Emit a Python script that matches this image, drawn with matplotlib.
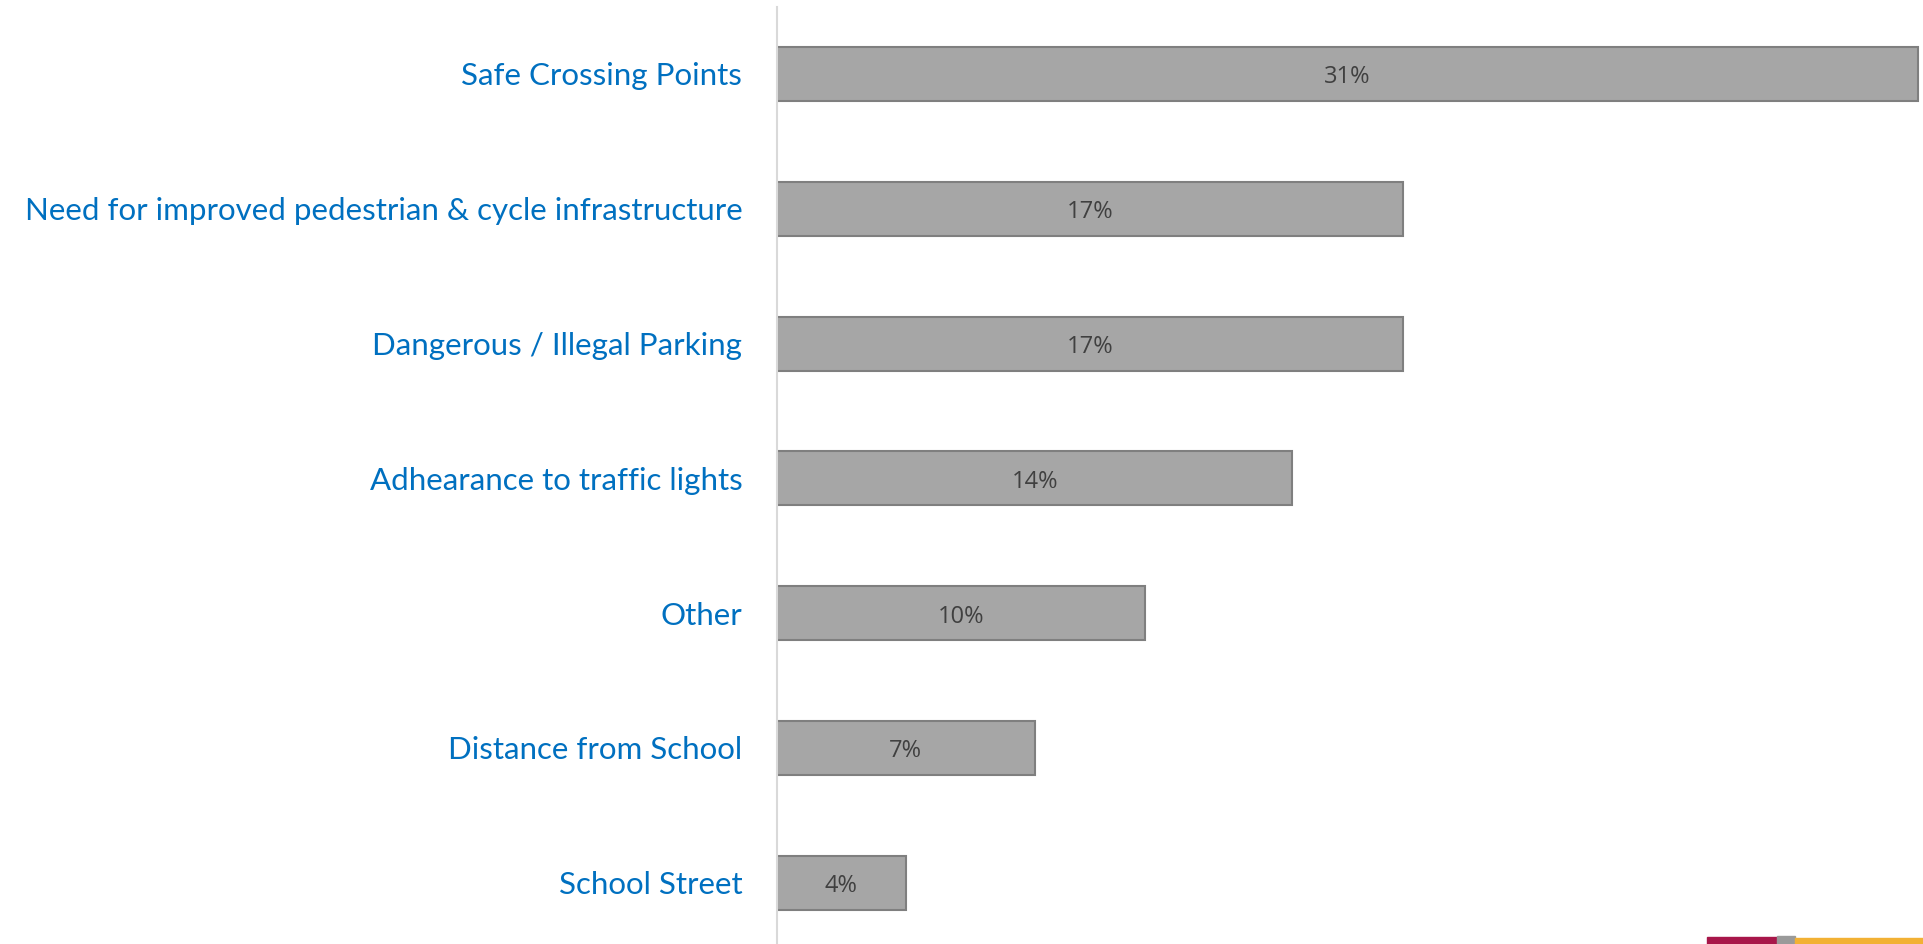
import matplotlib
matplotlib.use('Agg')
import matplotlib.pyplot as plt
from matplotlib.patches import Rectangle

categories = ['Safe Crossing Points',
              'Need for improved pedestrian & cycle infrastructure',
              'Dangerous / Illegal Parking',
              'Adhearance to traffic lights',
              'Other',
              'Distance from School',
              'School Street']
values = [31, 17, 17, 14, 10, 7, 3.5]
value_labels = ['31%', '17%', '17%', '14%', '10%', '7%', '4%']

W, H = 1924, 944
fig = plt.figure(figsize=(W/100, H/100), dpi=100)
ax = fig.add_axes([777/W, 0.0, 1 - 777/W, 1.0])

n = len(categories)
ypos = list(range(n))
ax.barh(ypos, values, height=0.4, color='#a6a6a6', edgecolor='#7f7f7f', linewidth=1.5)
ax.set_xlim(0, 31.17)
band = 134.8
ax.set_ylim(ypos[0] + (944 - 74) / band, ypos[0] - 74 / band)

for y, v, lab in zip(ypos, values, value_labels):
    ax.text(v/2, y + 0.025, lab, ha='center', va='center', fontsize=17, color='#404040',
            family='Open Sans')

ax.set_yticks(ypos)
ax.set_yticklabels(categories, fontsize=22.5, color='#0070c0', family='Lato')
ax.tick_params(axis='y', length=0, pad=25)
ax.set_xticks([])
for s in ['top', 'right', 'bottom']:
    ax.spines[s].set_visible(False)
ax.spines['left'].set_color('#d9d9d9')
ax.spines['left'].set_linewidth(1.5)
ax.spines['left'].set_bounds(ypos[0] + (944 - 74) / band, ypos[0] - 67 / band)

# corner logo fragment
fig.patches.append(Rectangle((1707/W, 0), 70/W, 7/H, transform=fig.transFigure,
                             color='#a8174a', zorder=5))
fig.patches.append(Rectangle((1777/W, 0), 18/W, 8/H, transform=fig.transFigure,
                             color='#9a9a9a', zorder=5))
fig.patches.append(Rectangle((1795/W, 0), 129/W, 6/H, transform=fig.transFigure,
                             color='#f2b134', zorder=5))

plt.savefig('out.png', dpi=100)
